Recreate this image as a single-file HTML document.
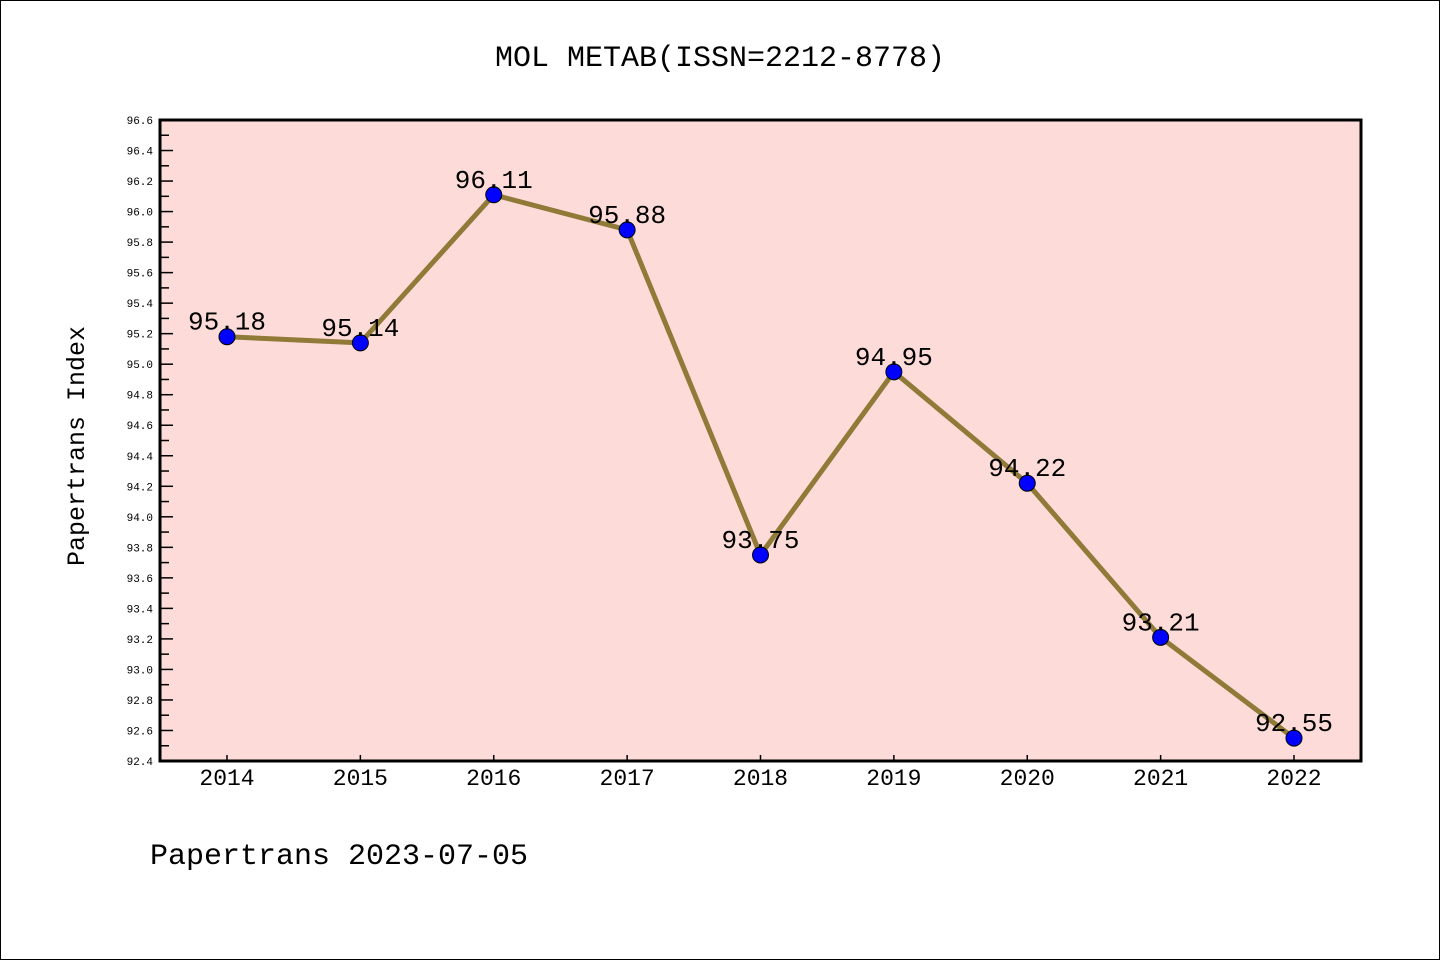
<!DOCTYPE html>
<html><head><meta charset="utf-8"><style>
body{margin:0;background:#fff}
svg{display:block}
text{font-family:"Liberation Mono","WenQuanYi Zen Hei",monospace;fill:#000}
</style></head><body>
<svg width="1440" height="960">
<rect x="0.5" y="0.5" width="1439" height="959" fill="#fff" stroke="#000"/>
<text x="720" y="66" font-size="30" text-anchor="middle">MOL METAB(ISSN=2212-8778)</text>
<rect x="160" y="120" width="1201" height="641" fill="#fddbd8"/>
<g id="yticks"></g>
<g id="xticks"></g>
<g id="series"></g>
<rect x="160" y="120" width="1201" height="641" fill="none" stroke="#000" stroke-width="3"/>
<text transform="translate(84,446) rotate(-90)" font-size="25" text-anchor="middle">Papertrans Index</text>
<text x="150" y="864" font-size="30">Papertrans 2023-07-05</text>
</svg>
<script>
const years=["2014","2015","2016","2017","2018","2019","2020","2021","2022"];
const values=[95.18,95.14,96.11,95.88,93.75,94.95,94.22,93.21,92.55];
const yTicks=["92.4","92.6","92.8","93.0","93.2","93.4","93.6","93.8","94.0","94.2","94.4","94.6","94.8","95.0","95.2","95.4","95.6","95.8","96.0","96.2","96.4","96.6"];
const NS="http://www.w3.org/2000/svg";
const yMin=92.4,yMax=96.6,yTop=120,yBot=761;
function ys(v){return yBot-(v-yMin)/(yMax-yMin)*(yBot-yTop);}
function xs(i){return 227+i*(1294-227)/(years.length-1);}
function mk(t,a,p){const e=document.createElementNS(NS,t);for(const k in a)e.setAttribute(k,a[k]);p.appendChild(e);return e;}
const yg=document.getElementById('yticks');
yTicks.forEach((t,idx)=>{const v=parseFloat(t),y=ys(v);
 const l=mk('line',{x1:160,x2:173,y1:y,y2:y,stroke:'#000','stroke-width':1.5},yg);
 
 
 if(idx<yTicks.length-1){
 const m=mk('line',{x1:160,x2:169,y1:ys(v+0.1),y2:ys(v+0.1),stroke:'#000','stroke-width':1.5},yg);
 
 
 }
 const tx=mk('text',{x:153,y:y+4,'font-size':11,'text-anchor':'end'},yg);tx.textContent=t;
 
 
});
const xg=document.getElementById('xticks');
years.forEach((yr,i)=>{const x=xs(i);
 const l=mk('line',{x1:x,x2:x,y1:761,y2:755,stroke:'#000','stroke-width':1.5},xg);
 
 
 const t=mk('text',{x:x,y:785,'font-size':23,'text-anchor':'middle'},xg);t.textContent=yr;
 
 
});
const sg=document.getElementById('series');
const pl=mk('polyline',{points:values.map((v,i)=>xs(i)+','+ys(v)).join(' '),fill:'none',stroke:'#8f7a38','stroke-width':5,'stroke-linejoin':'round'},sg);


values.forEach((v,i)=>{
 const c=mk('circle',{cx:xs(i),cy:ys(v),r:8,fill:'#0000ff',stroke:'#000','stroke-width':1},sg);
 
 
 const t=mk('text',{x:xs(i),y:ys(v)-7,'font-size':26,'text-anchor':'middle'},sg);t.textContent=v.toFixed(2);
 
 
});
</script>
</body></html>
